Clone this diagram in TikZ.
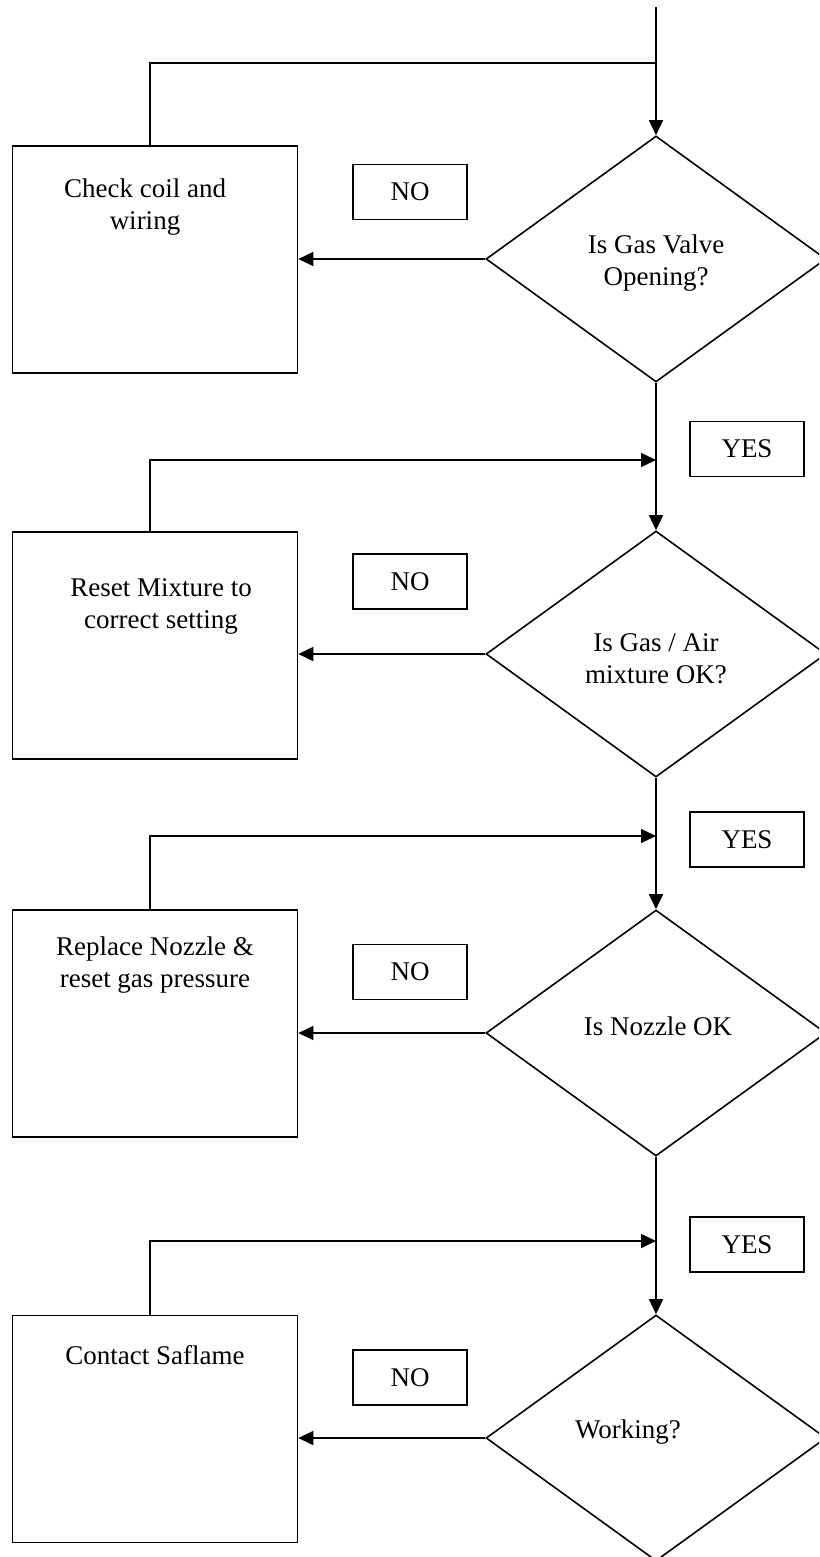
\documentclass[tikz,border=0pt]{standalone}
\usepackage{fontspec}
\setmainfont{Liberation Serif}
\usepackage{tikz}
\usetikzlibrary{arrows.meta,shapes.geometric,positioning}

\begin{document}
\begin{tikzpicture}[x=1pt, y=-1pt, line width=1.6pt,
    font=\fontsize{27}{32}\selectfont,
    fixbox/.style={draw, rectangle, minimum width=285pt, minimum height=227pt, inner sep=0pt},
    ask/.style={draw, diamond, minimum width=340pt, minimum height=246pt, inner sep=0pt},
    tag/.style={draw, rectangle, minimum width=114pt, minimum height=55pt, inner sep=0pt},
    txt/.style={align=center, inner sep=0pt},
    flow/.style={-{Triangle[length=15pt, width=14pt]}}]
            \useasboundingbox (0,0) rectangle (819,1557);
            \clip (0,0) rectangle (819,1557);

            % Decisions down the right hand side
            \node[ask] (q1) at (656,259) {};
            \node[ask] (q2) at (656,654) {};
            \node[ask] (q3) at (656,1033) {};
            \node[ask] (q4) at (656,1438) {};
            \node[txt] (q1t) at (656,263) {Is Gas Valve\\Opening?};
            \node[txt] (q2t) at (656,659) {Is Gas / Air\\mixture OK?};
            \node[txt] (q3t) at (658,1026) {Is Nozzle OK};
            \node[txt] (q4t) at (628,1432) {Working?};

            % Remedies on the left
            \node[fixbox] (fix1) at (155,259.5) {};
            \node[fixbox] (fix2) at (155,645.5) {};
            \node[fixbox] (fix3) at (155,1023.5) {};
            \node[fixbox] (fix4) at (155,1429) {};
            \node[txt] (fix1t) at (145,207) {Check coil and\\wiring};
            \node[txt] (fix2t) at (161,606) {Reset Mixture to\\correct setting};
            \node[txt] (fix3t) at (155,965) {Replace Nozzle \&\\reset gas pressure};
            \node[txt] (fix4t) at (155,1355) {Contact Saflame};

            % NO and YES tags
            \node[tag] (no1) at (410,192) {NO};
            \node[tag] (no2) at (410,581.5) {NO};
            \node[tag] (no3) at (410,972) {NO};
            \node[tag] (no4) at (410,1377.5) {NO};
            \node[tag] (yes1) at (747,449) {YES};
            \node[tag] (yes2) at (747,839.5) {YES};
            \node[tag] (yes3) at (747,1244.5) {YES};

            % Main line with the joins coming back from the left
            \coordinate (top) at (656,7);
            \coordinate (j1) at (656,63);
            \coordinate (j2) at (656,460);
            \coordinate (j3) at (656,836);
            \coordinate (j4) at (656,1241);
            \draw[flow] (top) -- (q1.north);
            \draw[flow] (q1.south) -- (q2.north);
            \draw[flow] (q2.south) -- (q3.north);
            \draw[flow] (q3.south) -- (q4.north);

            \draw ([xshift=-5pt]fix1.north) |- (j1);
            \draw[flow] ([xshift=-5pt]fix2.north) |- (j2);
            \draw[flow] ([xshift=-5pt]fix3.north) |- (j3);
            \draw[flow] ([xshift=-5pt]fix4.north) |- (j4);

            % NO branches
            \foreach \i in {1,...,4} {
                \draw[flow] (q\i.west) -- (q\i.west -| fix\i.east);
            }
\end{tikzpicture}
\end{document}
